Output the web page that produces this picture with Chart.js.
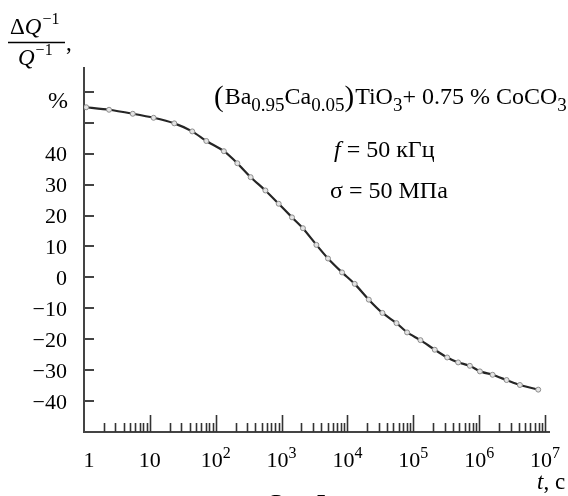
<!DOCTYPE html>
<html>
<head>
<meta charset="utf-8">
<style>
  html, body { margin: 0; padding: 0; background: #fff; }
  #chart { display: block; }
</style>
</head>
<body>
<canvas id="chart" width="568" height="496"></canvas>
<script src="https://cdn.jsdelivr.net/npm/chart.js"></script>
<script>
  // relaxation time, s (log axis) and relative change of internal friction, %
  const times = [1.08, 2.4, 5.5, 11.4, 23.5, 44, 72, 133, 213, 339, 568, 904, 1440, 2110,
    3380, 5070, 8280, 12900, 21100, 34000, 55600, 80500, 128500, 212000, 327000, 480000,
    723000, 1026000, 1600000, 2610000, 4160000, 7890000];
  const values = [55.0, 54.2, 52.9, 51.6, 49.8, 47.2, 44.1, 40.8, 36.9, 32.4, 28.1, 23.8, 19.4, 15.9,
    10.5, 6.1, 1.6, -2.1, -7.2, -11.5, -14.8, -17.8, -20.3, -23.4, -25.9, -27.5,
    -28.6, -30.4, -31.5, -33.2, -34.8, -36.3];

  const yTicks = [60, 50, 40, 30, 20, 10, 0, -10, -20, -30, -40];
  const yLabels = ['', '', '40', '30', '20', '10', '0', '\u221210', '\u221220', '\u221230', '\u221240'];
  const xDecades = [1, 10, 100, 1e3, 1e4, 1e5, 1e6, 1e7];
  const xBase = ['1', '10', '10', '10', '10', '10', '10', '10'];
  const xExp = ['', '', '2', '3', '4', '5', '6', '7'];
  const minorSteps = [2, 3, 4, 5, 6, 7, 8, 9];

  const SERIF = '"Liberation Serif", "Times New Roman", serif';
  const AXIS = '#444';

  // draw a run of [text, size, dy, italic, gap] pieces starting at x
  function drawRun(ctx, x, y, pieces) {
    pieces.forEach(p => {
      ctx.font = (p[3] ? 'italic ' : '') + p[1] + 'px ' + SERIF;
      ctx.fillText(p[0], x, y + p[2]);
      x += ctx.measureText(p[0]).width + (p[4] || 0);
    });
    return x;
  }
  function runWidth(ctx, pieces) {
    let w = 0;
    pieces.forEach(p => {
      ctx.font = (p[3] ? 'italic ' : '') + p[1] + 'px ' + SERIF;
      w += ctx.measureText(p[0]).width + (p[4] || 0);
    });
    return w;
  }

  const axisDecor = {
    id: 'axisDecor',
    afterDraw(chart) {
      const ctx = chart.ctx;
      const xs = chart.scales.x, ys = chart.scales.y;
      const area = chart.chartArea;
      ctx.save();
      ctx.strokeStyle = AXIS;
      ctx.lineWidth = 2;

      // y ticks point into the plot
      yTicks.forEach(v => {
        const py = Math.round(ys.getPixelForValue(v));
        ctx.beginPath();
        ctx.moveTo(area.left, py);
        ctx.lineTo(area.left + 10, py);
        ctx.stroke();
      });

      // x ticks: decades tall, 2..9 short, all pointing up
      ctx.strokeStyle = '#333';
      ctx.lineWidth = 1.6;
      for (let d = 0; d < xDecades.length - 1; d++) {
        minorSteps.concat([10]).forEach(m => {
          const px = Math.round(xs.getPixelForValue(xDecades[d] * m)) + 0.5;
          const len = m === 10 ? 17 : 9;
          ctx.beginPath();
          ctx.moveTo(px, area.bottom);
          ctx.lineTo(px, area.bottom - len);
          ctx.stroke();
        });
      }

      ctx.fillStyle = '#000';
      ctx.textBaseline = 'alphabetic';

      // y labels
      ctx.font = '22px ' + SERIF;
      ctx.textAlign = 'right';
      yTicks.forEach((v, i) => {
        if (!yLabels[i]) return;
        ctx.fillText(yLabels[i], 67, ys.getPixelForValue(v) + 7.5);
      });
      ctx.font = '24px ' + SERIF;
      ctx.textAlign = 'center';
      ctx.fillText('%', 58, 108);

      // x labels with exponents
      ctx.textAlign = 'left';
      xDecades.forEach((t, i) => {
        const pieces = [[xBase[i], 22, 0]];
        if (xExp[i]) pieces.push([xExp[i], 16, -9]);
        const w = runWidth(ctx, pieces);
        let cx = xs.getPixelForValue(t);
        if (i === 0) cx += 5;
        drawRun(ctx, cx - w / 2, 467, pieces);
      });
      drawRun(ctx, 537, 489, [['t', 23, 0, true], [', c', 23, 0]]);

      // y axis title: fraction
      drawRun(ctx, 10, 34, [['\u0394', 23, 0], ['Q', 23, 0, true, 1], ['\u22121', 16, -10]]);
      ctx.lineWidth = 1.3;
      ctx.strokeStyle = '#000';
      ctx.beginPath();
      ctx.moveTo(8, 42.5);
      ctx.lineTo(65, 42.5);
      ctx.stroke();
      drawRun(ctx, 18, 65, [['Q', 23, 0, true, 1], ['\u22121', 16, -10]]);
      ctx.font = '23px ' + SERIF;
      ctx.fillText(',', 66, 50);

      // composition and conditions
      drawRun(ctx, 214, 104, [
        ['(', 29, 2, false, 1], ['Ba', 24, 0], ['0.95', 19, 7], ['Ca', 24, 0], ['0.05', 19, 7],
        [')', 29, 2, false, 1], ['TiO', 24, 0], ['3', 19, 7], ['+ 0.75 % CoCO', 24, 0], ['3', 19, 7]
      ]);
      drawRun(ctx, 334, 157, [['f', 24, 0, true], [' = 50 \u043a\u0413\u0446', 24, 0]]);
      drawRun(ctx, 330, 198, [['\u03c3 = 50 \u041c\u041f\u0430', 24, 0]]);

      // figure caption, cut by the bottom edge
      drawRun(ctx, 271, 509, [['\u0420\u0438\u0441. 5', 22, 0]]);
      ctx.restore();
    }
  };

  new Chart(document.getElementById('chart'), {
    type: 'line',
    data: {
      datasets: [{
        data: times.map((t, i) => ({ x: t, y: values[i] })),
        borderColor: '#252525',
        borderWidth: 2.2,
        tension: 0.2,
        pointRadius: 2.5,
        pointBorderWidth: 1,
        pointBorderColor: '#8c8c8c',
        pointBackgroundColor: '#e4e4e4'
      }]
    },
    options: {
      responsive: false,
      devicePixelRatio: 1,
      animation: false,
      layout: { autoPadding: false, padding: { left: 84, right: 19, top: 68, bottom: 64 } },
      plugins: { legend: { display: false }, tooltip: { enabled: false } },
      scales: {
        x: {
          type: 'logarithmic',
          min: 1,
          max: 1.15e7,
          ticks: { display: false },
          grid: { display: false, drawTicks: false },
          border: { display: true, color: AXIS, width: 2 }
        },
        y: {
          type: 'linear',
          min: -50,
          max: 67.7,
          ticks: { display: false },
          grid: { display: false, drawTicks: false },
          border: { display: true, color: AXIS, width: 2 }
        }
      }
    },
    plugins: [axisDecor]
  });
</script>
</body>
</html>
